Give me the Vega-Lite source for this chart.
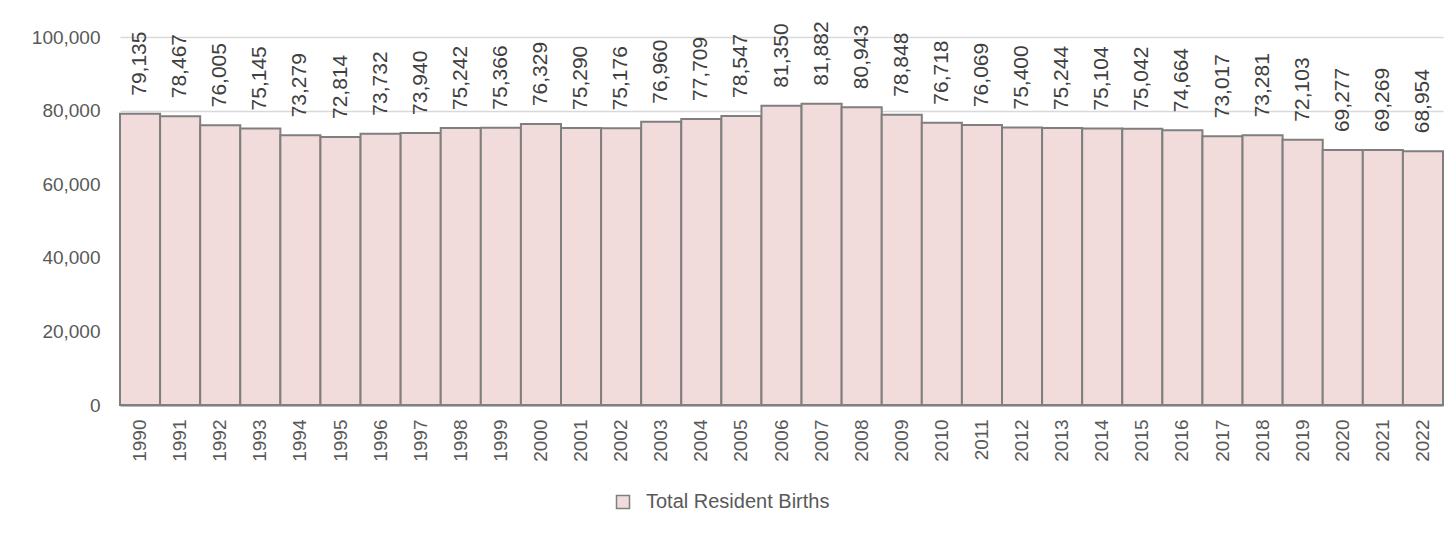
{
  "$schema": "https://vega.github.io/schema/vega-lite/v6.json",
  "width": 1323,
  "height": 368,
  "autosize": {"type": "none"},
  "padding": {"left": 120, "top": 37, "right": 8, "bottom": 132},
  "background": "white",
  "config": {
    "view": {"stroke": null},
    "font": "Liberation Sans",
    "axis": {"labelFont": "Liberation Sans", "labelColor": "#595959"}
  },
  "data": {
    "values": [
      {"year": "1990", "births": 79135, "series": "Total Resident Births"},
      {"year": "1991", "births": 78467, "series": "Total Resident Births"},
      {"year": "1992", "births": 76005, "series": "Total Resident Births"},
      {"year": "1993", "births": 75145, "series": "Total Resident Births"},
      {"year": "1994", "births": 73279, "series": "Total Resident Births"},
      {"year": "1995", "births": 72814, "series": "Total Resident Births"},
      {"year": "1996", "births": 73732, "series": "Total Resident Births"},
      {"year": "1997", "births": 73940, "series": "Total Resident Births"},
      {"year": "1998", "births": 75242, "series": "Total Resident Births"},
      {"year": "1999", "births": 75366, "series": "Total Resident Births"},
      {"year": "2000", "births": 76329, "series": "Total Resident Births"},
      {"year": "2001", "births": 75290, "series": "Total Resident Births"},
      {"year": "2002", "births": 75176, "series": "Total Resident Births"},
      {"year": "2003", "births": 76960, "series": "Total Resident Births"},
      {"year": "2004", "births": 77709, "series": "Total Resident Births"},
      {"year": "2005", "births": 78547, "series": "Total Resident Births"},
      {"year": "2006", "births": 81350, "series": "Total Resident Births"},
      {"year": "2007", "births": 81882, "series": "Total Resident Births"},
      {"year": "2008", "births": 80943, "series": "Total Resident Births"},
      {"year": "2009", "births": 78848, "series": "Total Resident Births"},
      {"year": "2010", "births": 76718, "series": "Total Resident Births"},
      {"year": "2011", "births": 76069, "series": "Total Resident Births"},
      {"year": "2012", "births": 75400, "series": "Total Resident Births"},
      {"year": "2013", "births": 75244, "series": "Total Resident Births"},
      {"year": "2014", "births": 75104, "series": "Total Resident Births"},
      {"year": "2015", "births": 75042, "series": "Total Resident Births"},
      {"year": "2016", "births": 74664, "series": "Total Resident Births"},
      {"year": "2017", "births": 73017, "series": "Total Resident Births"},
      {"year": "2018", "births": 73281, "series": "Total Resident Births"},
      {"year": "2019", "births": 72103, "series": "Total Resident Births"},
      {"year": "2020", "births": 69277, "series": "Total Resident Births"},
      {"year": "2021", "births": 69269, "series": "Total Resident Births"},
      {"year": "2022", "births": 68954, "series": "Total Resident Births"}
    ]
  },
  "encoding": {
    "x": {
      "field": "year",
      "type": "ordinal",
      "scale": {"paddingInner": 0, "paddingOuter": 0},
      "axis": {
        "title": null,
        "labelAngle": -90,
        "labelFontSize": 19,
        "ticks": false,
        "labelPadding": 14,
        "domainColor": "#7f7f7f",
        "domainWidth": 2,
        "grid": false
      }
    },
    "y": {
      "field": "births",
      "type": "quantitative",
      "scale": {"domain": [0, 100000], "nice": false},
      "axis": {
        "title": null,
        "values": [0, 20000, 40000, 60000, 80000, 100000],
        "format": ",d",
        "labelFontSize": 19,
        "ticks": false,
        "domain": false,
        "labelPadding": 20,
        "gridColor": "#d9d9d9",
        "gridWidth": 1.5
      }
    }
  },
  "layer": [
    {
      "mark": {"type": "bar", "stroke": "#7f7f7f", "strokeWidth": 2},
      "encoding": {
        "color": {
          "field": "series",
          "type": "nominal",
          "scale": {"range": ["#f2dcdb"]},
          "legend": {
            "title": null,
            "orient": "none",
            "legendX": 493,
            "legendY": 455,
            "padding": 0,
            "symbolType": "square",
            "symbolSize": 169,
            "symbolStrokeColor": "#7f7f7f",
            "symbolStrokeWidth": 1.5,
            "labelFontSize": 20,
            "labelLimit": 0,
            "labelColor": "#595959",
            "labelOffset": 13,
            "labelFont": "Liberation Sans"
          }
        }
      }
    },
    {
      "mark": {
        "type": "text",
        "angle": -90,
        "align": "left",
        "baseline": "middle",
        "dx": 18,
        "fontSize": 21,
        "color": "#404040"
      },
      "encoding": {
        "text": {"field": "births", "type": "quantitative", "format": ",d"}
      }
    }
  ]
}
